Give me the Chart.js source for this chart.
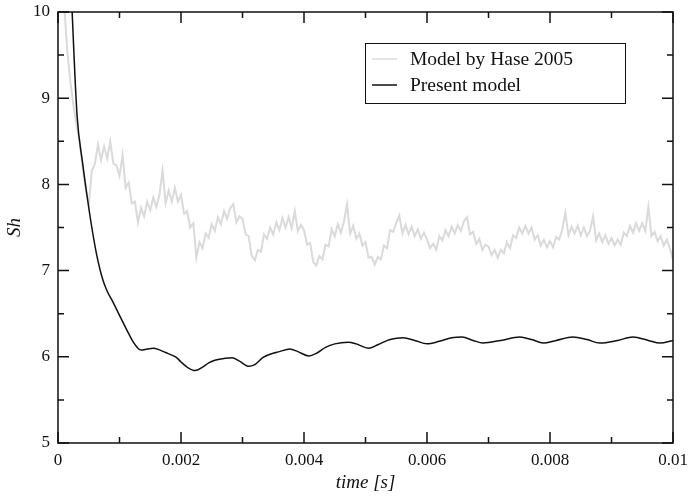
<!DOCTYPE html>
<html lang="en">

<head>
  <meta charset="UTF-8" />
  <title>Sh x time</title>
  <script src="https://cdn.jsdelivr.net/npm/chart.js"></script>
  <style>
    html, body { margin: 0; padding: 0; background: #ffffff; }
    .grafico { width: 688px; height: 500px; }
  </style>
</head>

<body>
  <div class="grafico"><canvas id="canvas_grafico_sh" width="688" height="500"></canvas></div>

  <script>
    // serie Hase 2005 (amostrada a cada dt_hase segundos)
    var dt_hase = 0.00005;
    var sh_hase = [
      11.5, 10.85, 10.1, 9.55, 9.2, 8.92, 8.7, 8.5, 8.2, 7.95,
      7.76, 8.16, 8.24, 8.46, 8.28, 8.44, 8.3, 8.5, 8.24, 8.22,
      8.1, 8.34, 7.96, 8.02, 7.78, 7.8, 7.56, 7.73, 7.63, 7.8,
      7.7, 7.85, 7.74, 7.88, 8.16, 7.78, 7.93, 7.8, 7.96, 7.8,
      7.88, 7.66, 7.69, 7.5, 7.55, 7.15, 7.33, 7.26, 7.43, 7.38,
      7.54, 7.46, 7.62, 7.54, 7.69, 7.6, 7.72, 7.77, 7.56, 7.63,
      7.6, 7.42, 7.4, 7.17, 7.12, 7.24, 7.22, 7.42, 7.37, 7.5,
      7.42, 7.56, 7.47, 7.61, 7.5, 7.62, 7.49, 7.69, 7.46, 7.53,
      7.47, 7.3, 7.32, 7.1, 7.06, 7.17, 7.13, 7.3, 7.28, 7.48,
      7.4, 7.54, 7.44, 7.57, 7.77, 7.43, 7.52, 7.37, 7.43, 7.29,
      7.33, 7.15, 7.16, 7.07, 7.16, 7.13, 7.29, 7.26, 7.47, 7.45,
      7.55, 7.64, 7.43, 7.53, 7.42, 7.51, 7.4, 7.48, 7.37, 7.44,
      7.36, 7.26, 7.31, 7.24, 7.4, 7.35, 7.47, 7.4, 7.51, 7.43,
      7.53, 7.46, 7.57, 7.62, 7.42, 7.45, 7.31, 7.37, 7.24, 7.3,
      7.28, 7.18, 7.24, 7.15, 7.24, 7.2, 7.33, 7.26, 7.41, 7.38,
      7.5, 7.43, 7.52, 7.43, 7.5, 7.36, 7.41, 7.29, 7.36, 7.27,
      7.34, 7.27, 7.39, 7.36, 7.48, 7.67, 7.41, 7.51, 7.43, 7.52,
      7.41, 7.5, 7.4, 7.46, 7.63, 7.35, 7.43, 7.33, 7.41, 7.31,
      7.38, 7.29, 7.36, 7.3, 7.44, 7.4, 7.52, 7.44, 7.55, 7.46,
      7.55, 7.46, 7.74, 7.4, 7.45, 7.34, 7.4, 7.29, 7.36, 7.26,
      7.12
    ];

    // modelo atual
    var t_present = [
      0.0001, 0.00015, 0.00023, 0.00031, 0.0004, 0.00047, 0.00055, 0.00063, 0.00073, 0.0008,
      0.00089, 0.001, 0.00112, 0.0012, 0.0013, 0.00135, 0.00145, 0.00155, 0.00165, 0.00175,
      0.00185, 0.00193, 0.002, 0.0021, 0.00223, 0.00235, 0.00245, 0.00255, 0.0027, 0.00283,
      0.00295, 0.0031, 0.0032, 0.00333, 0.00345, 0.0036, 0.00377, 0.0039, 0.00408, 0.0042,
      0.00435, 0.0045, 0.00472, 0.00485, 0.00505, 0.0052, 0.0054, 0.00561, 0.0058, 0.006,
      0.0062, 0.0064, 0.00657, 0.00675, 0.00691, 0.0072, 0.00751, 0.0077, 0.00789, 0.0081,
      0.00837, 0.0086, 0.00881, 0.0091, 0.00935, 0.0096, 0.00979, 0.01
    ];
    var sh_present = [
      12.5, 11.4, 10.0, 8.8, 8.25, 7.88, 7.5, 7.18, 6.89, 6.76,
      6.64, 6.48, 6.31, 6.2, 6.1, 6.08, 6.09, 6.1, 6.08, 6.05,
      6.02, 5.99, 5.94, 5.88, 5.84, 5.88, 5.93, 5.96, 5.98, 5.99,
      5.95, 5.89, 5.91, 5.99, 6.03, 6.06, 6.09, 6.06, 6.01, 6.04,
      6.11, 6.15, 6.17, 6.15, 6.1, 6.14, 6.2, 6.22, 6.19, 6.15,
      6.18, 6.22, 6.23, 6.19, 6.16, 6.19, 6.23, 6.2, 6.16, 6.19,
      6.23, 6.2, 6.16, 6.19, 6.23, 6.19, 6.16, 6.19
    ];

    var x_ticks = [0, 0.002, 0.004, 0.006, 0.008, 0.01];
    var x_tick_labels = ["0", "0.002", "0.004", "0.006", "0.008", "0.01"];
    var y_ticks = [5, 6, 7, 8, 9, 10];
    var y_tick_labels = ["5", "6", "7", "8", "9", "10"];

    var legenda = ["Model by Hase 2005", "Present model"];
    var cor_hase = "#dadada";
    var cor_present = "#111111";
    var fonte = "'Liberation Serif', 'DejaVu Serif', serif";

    // ticks para dentro nos quatro lados + moldura
    const moldura = {
      id: "moldura",
      afterDatasetsDraw(chart) {
        const ctx = chart.ctx;
        const a = chart.chartArea;
        const sx = chart.scales.x;
        const sy = chart.scales.y;
        ctx.save();
        ctx.strokeStyle = "#111";
        ctx.lineWidth = 1.5;
        ctx.beginPath();
        for (let i = 0; i < x_ticks.length; i++) {
          let px = sx.getPixelForValue(x_ticks[i]);
          ctx.moveTo(px, a.bottom); ctx.lineTo(px, a.bottom - 11);
          ctx.moveTo(px, a.top); ctx.lineTo(px, a.top + 11);
          if (i < x_ticks.length - 1) {
            let pm = sx.getPixelForValue((x_ticks[i] + x_ticks[i + 1]) / 2);
            ctx.moveTo(pm, a.bottom); ctx.lineTo(pm, a.bottom - 6);
            ctx.moveTo(pm, a.top); ctx.lineTo(pm, a.top + 6);
          }
        }
        for (let i = 0; i < y_ticks.length; i++) {
          let py = sy.getPixelForValue(y_ticks[i]);
          ctx.moveTo(a.left, py); ctx.lineTo(a.left + 11, py);
          ctx.moveTo(a.right, py); ctx.lineTo(a.right - 11, py);
          if (i < y_ticks.length - 1) {
            let pm = sy.getPixelForValue((y_ticks[i] + y_ticks[i + 1]) / 2);
            ctx.moveTo(a.left, pm); ctx.lineTo(a.left + 6, pm);
            ctx.moveTo(a.right, pm); ctx.lineTo(a.right - 6, pm);
          }
        }
        ctx.stroke();
        ctx.strokeRect(a.left, a.top, a.right - a.left, a.bottom - a.top);

        // legenda dentro do grafico
        ctx.lineWidth = 1;
        ctx.strokeStyle = "#111";
        ctx.fillStyle = "#fff";
        ctx.fillRect(365, 43, 260, 60);
        ctx.strokeRect(365.5, 43.5, 260, 60);
        var cores = [cor_hase, cor_present];
        ctx.font = "19.5px " + fonte;
        ctx.textBaseline = "middle";
        for (let i = 0; i < legenda.length; i++) {
          let y = 59 + i * 26;
          ctx.strokeStyle = cores[i];
          ctx.lineWidth = 1.5;
          ctx.beginPath();
          ctx.moveTo(372, y); ctx.lineTo(397, y);
          ctx.stroke();
          ctx.fillStyle = "#111";
          ctx.fillText(legenda[i], 410, y + 1);
        }
        ctx.restore();
      }
    };

    function criar_grafico_sh() {
      const canvas = document.getElementById("canvas_grafico_sh");
      new Chart(canvas, {
        type: "line",
        data: {
          datasets: [
            {
              label: legenda[1],
              data: t_present.map((t, i) => ({ x: t, y: sh_present[i] })),
              borderColor: cor_present,
              borderWidth: 1.5,
              pointRadius: 0,
              cubicInterpolationMode: "monotone",
              order: 1,
            },
            {
              label: legenda[0],
              data: sh_hase.map((v, i) => ({ x: i * dt_hase, y: v })),
              borderColor: cor_hase,
              borderWidth: 2,
              pointRadius: 0,
              tension: 0,
              order: 2,
            },
          ],
        },
        options: {
          responsive: false,
          animation: false,
          devicePixelRatio: 1,
          layout: { padding: { left: 0, right: 15, top: 12, bottom: 0 } },
          plugins: {
            legend: { display: false },
            tooltip: { enabled: false },
          },
          scales: {
            x: {
              type: "linear",
              min: 0,
              max: 0.01,
              afterBuildTicks: (s) => { s.ticks = x_ticks.map(v => ({ value: v })); },
              afterFit: (s) => {
                s.height = 57;
                s.paddingLeft = 0; s.paddingRight = 0;
              },
              grid: { display: false, drawTicks: false },
              border: { display: false },
              ticks: {
                padding: 7,
                color: "#111",
                font: { family: fonte, size: 17 },
                callback: (v) => x_tick_labels[x_ticks.indexOf(v)],
              },
              title: {
                display: true,
                text: "time [s]",
                color: "#111",
                font: { family: fonte, size: 19, style: "italic" },
                padding: { top: 0, bottom: 6 },
              },
            },
            y: {
              min: 5,
              max: 10,
              afterBuildTicks: (s) => { s.ticks = y_ticks.map(v => ({ value: v })); },
              afterFit: (s) => {
                s.width = 58;
                s.paddingTop = 0; s.paddingBottom = 0;
              },
              grid: { display: false, drawTicks: false },
              border: { display: false },
              ticks: {
                padding: 8,
                color: "#111",
                font: { family: fonte, size: 17 },
                callback: (v) => y_tick_labels[y_ticks.indexOf(v)],
              },
              title: {
                display: true,
                text: "Sh",
                color: "#111",
                font: { family: fonte, size: 19, style: "italic" },
                padding: { top: 4, bottom: 0 },
              },
            },
          },
        },
        plugins: [moldura],
      });
    }

    criar_grafico_sh();
  </script>
</body>

</html>
